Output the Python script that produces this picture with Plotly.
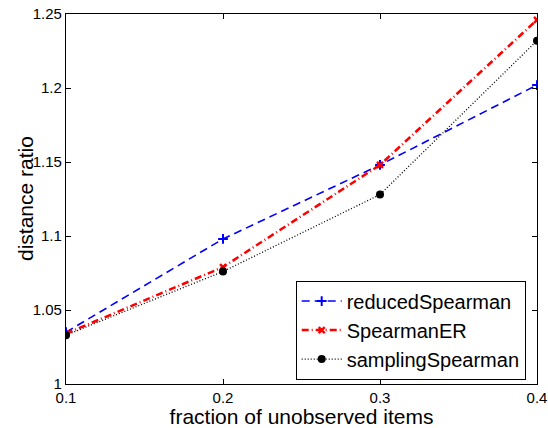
import plotly.graph_objects as go

x_vals = [0.1, 0.2, 0.3, 0.4]
reduced_spearman = [1.035, 1.098, 1.148, 1.202]
spearman_er = [1.034, 1.079, 1.148, 1.246]
sampling_spearman = [1.033, 1.076, 1.128, 1.232]

x_ticks = [0.1, 0.2, 0.3, 0.4]
x_tick_labels = ["0.1", "0.2", "0.3", "0.4"]
y_ticks = [1.0, 1.05, 1.1, 1.15, 1.2, 1.25]
y_tick_labels = ["1", "1.05", "1.1", "1.15", "1.2", "1.25"]

font_family = "Liberation Sans, Arial, sans-serif"

fig = go.Figure()
fig.add_trace(go.Scatter(
    x=x_vals, y=reduced_spearman, name="reducedSpearman", mode="lines+markers",
    line=dict(color="blue", dash="8px,5px", width=1.6),
    marker=dict(symbol="cross-thin", size=7, line=dict(color="blue", width=2), color="blue"),
))
fig.add_trace(go.Scatter(
    x=x_vals, y=spearman_er, name="SpearmanER", mode="lines+markers",
    line=dict(color="red", dash="7px,3px,1px,3px", width=2.5),
    marker=dict(symbol="x-thin", size=6, line=dict(color="red", width=2.5), color="red"),
))
fig.add_trace(go.Scatter(
    x=x_vals, y=sampling_spearman, name="samplingSpearman", mode="lines+markers",
    line=dict(color="black", dash="1px,2px", width=1.3),
    marker=dict(symbol="circle", size=8, color="black"),
))

axis_common = dict(
    showline=True, linecolor="black", linewidth=1.3, mirror="ticks",
    ticks="inside", ticklen=5, tickcolor="black", showgrid=False, zeroline=False,
    automargin=False, ticklabeloverflow="allow",
    tickfont=dict(family=font_family, size=15, color="black"),
)

fig.update_layout(
    template="none",
    width=548, height=428,
    margin=dict(l=66, r=11, t=14, b=44),
    paper_bgcolor="white", plot_bgcolor="white",
    font=dict(family=font_family, color="black"),
    xaxis=dict(range=[0.1, 0.4], tickvals=x_ticks, ticktext=x_tick_labels,
               title=dict(text="fraction of unobserved items", font=dict(size=21), standoff=0),
               **axis_common),
    yaxis=dict(range=[1.0, 1.25], tickvals=y_ticks, ticktext=y_tick_labels,
               **axis_common),
    legend=dict(x=0.976, y=0.012, xanchor="right", yanchor="bottom",
                bordercolor="black", borderwidth=1, bgcolor="white",
                font=dict(family=font_family, size=20), tracegroupgap=0,
                itemwidth=40),
    showlegend=True,
    annotations=[dict(
        text="distance ratio", textangle=-90, showarrow=False,
        xref="paper", yref="paper", x=0, y=0.5, xanchor="center", yanchor="middle",
        xshift=-41, font=dict(family=font_family, size=21, color="black"),
    )],
)

# Remove the page's default body margin so the figure fills the window exactly.
fig.write_html(
    "out.html",
    config={"displayModeBar": False},
    post_script="document.body.style.margin='0';document.body.style.overflow='hidden';",
)
